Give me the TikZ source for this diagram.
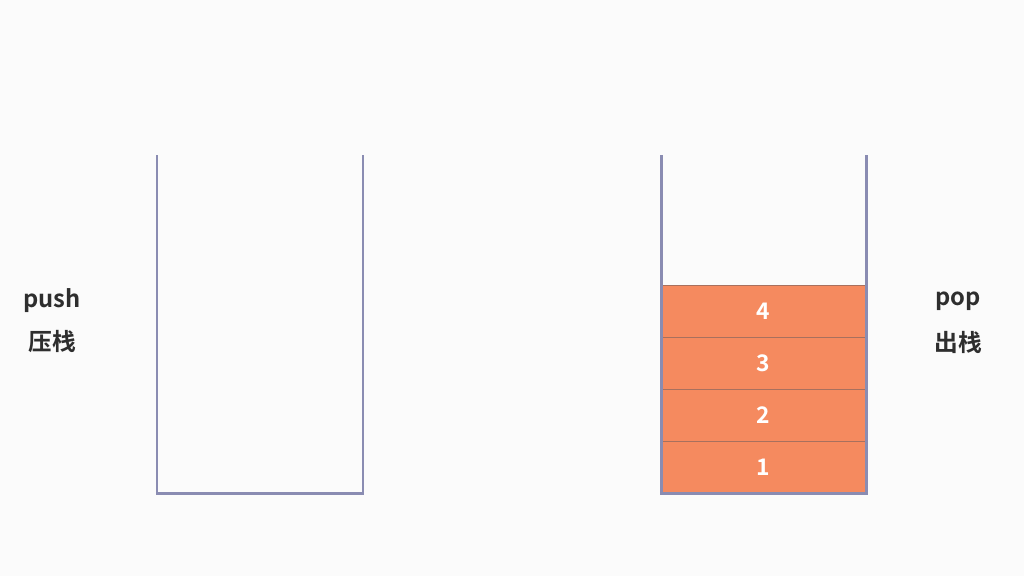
\documentclass[tikz,border=0pt]{standalone}
\usepackage{fontspec}
\setmainfont{Noto Sans CJK SC}[BoldFont={* Bold}]
\usepackage{tikz}
\usetikzlibrary{positioning}
\definecolor{bgcol}{HTML}{FBFBFB}
\definecolor{wallcol}{HTML}{8A8CB2}
\definecolor{itemcol}{HTML}{F58A5F}
\definecolor{sepcol}{HTML}{A8705E}
\definecolor{txtcol}{HTML}{2E2E2E}

\begin{document}
\begin{tikzpicture}[x=0.02cm, y=-0.02cm,
  wall/.style={draw=wallcol, line width=1.7pt},
  item/.style={rectangle, fill=itemcol, draw=sepcol, line width=0.5pt,
    minimum width=4.06cm, minimum height=1.04cm, inner sep=0pt,
    text=white, font=\fontsize{13}{15}\selectfont\bfseries},
  label/.style={text=txtcol, font=\fontsize{13.5}{16}\selectfont\bfseries, inner sep=0pt}]

\fill[bgcol] (0,0) rectangle (1024,576);

% stack items
\node[item] (I1) at (763.5,467) {1};
\node[item] (I2) at (763.5,415) {2};
\node[item] (I3) at (763.5,363) {3};
\node[item] (I4) at (763.5,311) {4};

% containers
\draw[wall] (157,155) -- (157,493) -- (363,493) -- (363,155);
\draw[wall] (661,155) -- (661,493) -- (866,493) -- (866,155);

% labels
\node[label] (PU) at (52,301) {push};
\node[label] (PUc) at (52,342) {压栈};
\node[label] (PO) at (958,301) {pop};
\node[label] (POc) at (958,342) {出栈};
\end{tikzpicture}
\end{document}
